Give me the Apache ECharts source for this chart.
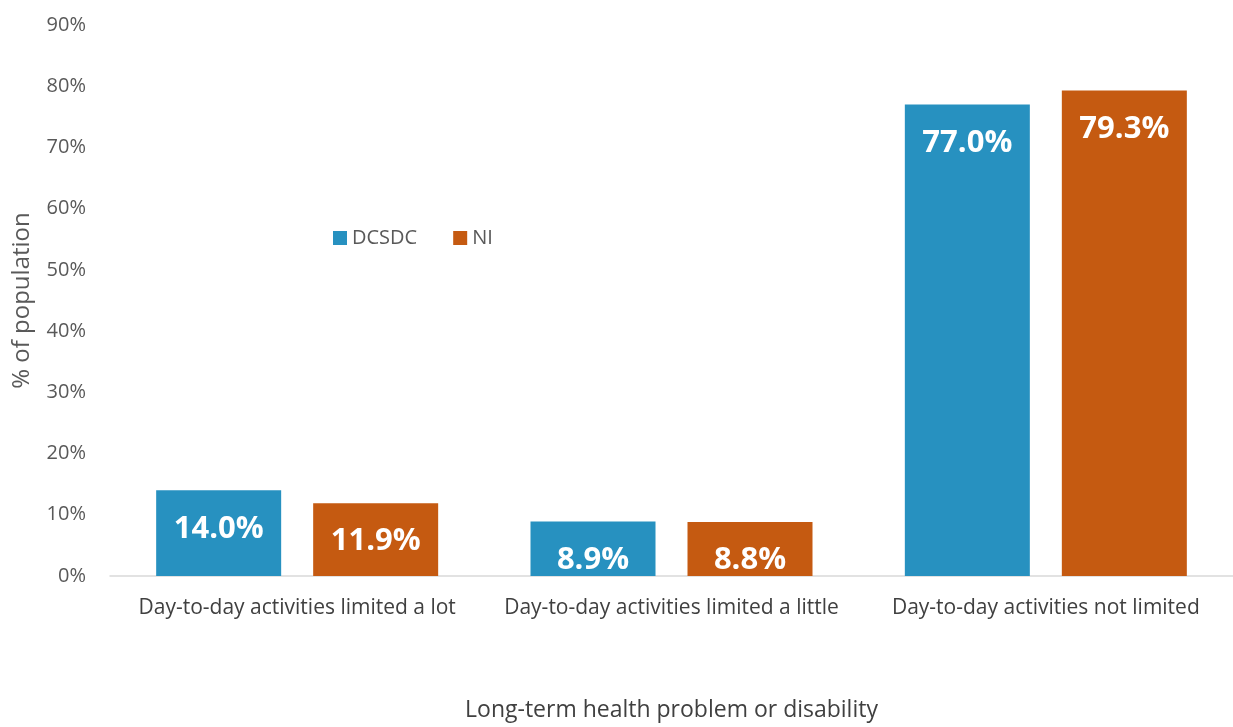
<!DOCTYPE html>
<html><head><meta charset="utf-8">
<script src="https://cdn.jsdelivr.net/npm/echarts@6/dist/echarts.min.js"></script>
<style>html,body{margin:0;padding:0;background:#fff}#c{width:1233px;height:727px}</style>
</head><body><div id="c"></div>
<script>
const categories = ["Day-to-day activities limited a lot", "Day-to-day activities limited a little", "Day-to-day activities not limited"];
const dcsdc = [14.0, 8.9, 77.0];
const ni = [11.9, 8.8, 79.3];
const yTicks = [0, 10, 20, 30, 40, 50, 60, 70, 80, 90];
const font = "'Open Sans', sans-serif";
const chart = echarts.init(document.getElementById('c'));
const lbl = {show: true, position: 'insideTop', distance: 23, color: '#fff', fontSize: 31, fontWeight: 'bold', fontFamily: font, formatter: p => p.value.toFixed(1) + '%'};
chart.setOption({
  animation: false,
  grid: {left: 110, right: 0, top: 25, bottom: 147},
  legend: {left: 328, top: 223, itemWidth: 14, itemHeight: 14, itemGap: 36, icon: 'rect',
    textStyle: {color: '#595959', fontSize: 20, fontFamily: font}, data: ['DCSDC', 'NI']},
  xAxis: {type: 'category', data: categories,
    axisLine: {lineStyle: {color: '#d9d9d9', width: 1.5}}, axisTick: {show: false},
    axisLabel: {color: '#404040', fontSize: 21, fontFamily: font, margin: 22, interval: 0},
    name: 'Long-term health problem or disability', nameLocation: 'middle', nameGap: 123,
    nameTextStyle: {color: '#404040', fontSize: 23, fontFamily: font}},
  yAxis: {type: 'value', min: yTicks[0], max: yTicks[yTicks.length - 1], interval: 10,
    splitLine: {show: false}, axisLine: {show: false}, axisTick: {show: false},
    axisLabel: {color: '#595959', fontSize: 20, fontFamily: font, margin: 24, formatter: v => v + '%'},
    name: '% of population', nameLocation: 'middle', nameGap: 76, nameRotate: 90,
    nameTextStyle: {color: '#595959', fontSize: 24, fontFamily: font}},
  series: [
    {name: 'DCSDC', type: 'bar', data: dcsdc, barWidth: 125, barGap: '25.6%', itemStyle: {color: '#2791C0'}, label: lbl},
    {name: 'NI', type: 'bar', data: ni, barWidth: 125, itemStyle: {color: '#C55A11'}, label: lbl}
  ]
});
</script></body></html>
